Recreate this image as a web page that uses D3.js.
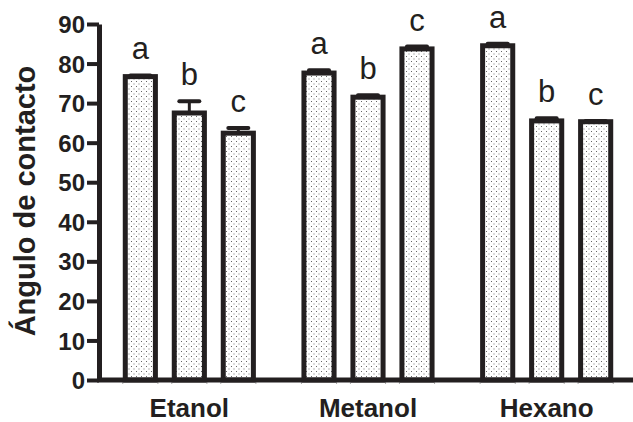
<!DOCTYPE html>
<html>
<head>
<meta charset="utf-8">
<script src="https://cdn.jsdelivr.net/npm/d3@7"></script>
<style>
  body { margin: 0; background: #fff; }
  svg { display: block; font-family: "Liberation Sans", Arial, sans-serif; }
</style>
</head>
<body>
<div id="chart"></div>
<script>
// data
var groups = ["Etanol", "Metanol", "Hexano"];
var etanol = [76.7, 67.5, 62.4];
var metanol = [77.6, 71.5, 83.7];
var hexano = [84.5, 65.5, 65.3];
var etanolErr = [0.3, 3.0, 1.3];
var metanolErr = [0.7, 0.5, 0.6];
var hexanoErr = [0.5, 0.7, 0.2];
var letters = ["a", "b", "c"];
var yTicks = [0, 10, 20, 30, 40, 50, 60, 70, 80, 90];

var values = [etanol, metanol, hexano];
var errors = [etanolErr, metanolErr, hexanoErr];

var data = [];
groups.forEach(function (g, i) {
    values[i].forEach(function (v, j) {
        data.push({ group: g, idx: j, value: v, err: errors[i][j], letter: letters[j] });
    });
});

var W = 633, H = 422;
var ink = "#231f20";

var svg = d3.select("#chart")
    .append("svg")
    .attr("width", W)
    .attr("height", H);

// dotted fill
var pat = svg.append("defs").append("pattern")
    .attr("id", "dots")
    .attr("patternUnits", "userSpaceOnUse")
    .attr("width", 5)
    .attr("height", 5);
pat.append("rect").attr("width", 5).attr("height", 5).attr("fill", "#fff");
pat.append("rect").attr("x", 1).attr("y", 1).attr("width", 1).attr("height", 1).attr("fill", "#666");
pat.append("rect").attr("x", 3.5).attr("y", 3.5).attr("width", 1).attr("height", 1).attr("fill", "#777");

var y = d3.scaleLinear()
    .domain([0, 90])
    .range([380, 24]);

var x = d3.scaleBand()
    .domain(groups)
    .range([100, 636]);

var xi = d3.scaleBand()
    .domain([0, 1, 2])
    .range([0, x.bandwidth()])
    .paddingInner(0.385)
    .paddingOuter(0.516);

// bars
var bars = svg.append("g");
bars.selectAll("rect")
    .data(data)
    .enter()
    .append("rect")
    .attr("x", function (d) { return x(d.group) + xi(d.idx); })
    .attr("y", function (d) { return y(d.value); })
    .attr("width", xi.bandwidth())
    .attr("height", function (d) { return y(0) - y(d.value); })
    .attr("fill", "url(#dots)")
    .attr("stroke", ink)
    .attr("stroke-width", 5);

// faint marks under bar edges
data.forEach(function (d) {
    [-2.5, xi.bandwidth() + 2.5].forEach(function (o) {
        svg.append("line")
            .attr("x1", x(d.group) + xi(d.idx) + o)
            .attr("x2", x(d.group) + xi(d.idx) + o)
            .attr("y1", y(0))
            .attr("y2", y(0) + 4)
            .attr("stroke", "#aaa")
            .attr("stroke-width", 1);
    });
});

// error bars (upper only)
var eb = svg.append("g").attr("stroke", ink);
data.forEach(function (d) {
    var cx = x(d.group) + xi(d.idx) + xi.bandwidth() / 2;
    eb.append("line")
        .attr("x1", cx).attr("x2", cx)
        .attr("y1", y(d.value)).attr("y2", y(d.value + d.err))
        .attr("stroke-width", 3);
    eb.append("line")
        .attr("x1", cx - 10).attr("x2", cx + 10)
        .attr("y1", y(d.value + d.err)).attr("y2", y(d.value + d.err))
        .attr("stroke-width", 4)
        .attr("stroke-linecap", "round");
});

// significance letters
svg.append("g").selectAll("text")
    .data(data)
    .enter()
    .append("text")
    .attr("x", function (d) { return x(d.group) + xi(d.idx) + xi.bandwidth() / 2; })
    .attr("y", function (d) { return y(d.value + d.err) - 16; })
    .attr("text-anchor", "middle")
    .attr("fill", ink)
    .style("font-size", "31px")
    .text(function (d) { return d.letter; });

// y axis
var yAxis = svg.append("g")
    .attr("transform", "translate(99,0)")
    .call(d3.axisLeft(y).tickValues(yTicks).tickSize(12).tickSizeOuter(0).tickPadding(2));
yAxis.select(".domain").attr("stroke", ink).attr("stroke-width", 5);
yAxis.selectAll(".tick line").attr("stroke", ink).attr("stroke-width", 4);
yAxis.selectAll(".tick text")
    .attr("fill", ink)
    .attr("dy", "0.36em")
    .style("font-size", "24px")
    .style("font-weight", "bold")
    .style("font-family", "'Liberation Sans', Arial, sans-serif");

// x axis line
svg.append("line")
    .attr("x1", 97).attr("x2", 633)
    .attr("y1", y(0)).attr("y2", y(0))
    .attr("stroke", ink)
    .attr("stroke-width", 5);

// group labels
svg.append("g").selectAll("text")
    .data(groups)
    .enter()
    .append("text")
    .attr("x", function (d) { return x(d) + x.bandwidth() / 2; })
    .attr("y", 417)
    .attr("text-anchor", "middle")
    .attr("fill", ink)
    .style("font-size", "26px")
    .style("font-weight", "bold")
    .text(function (d) { return d; });

// y label
svg.append("text")
    .attr("transform", "translate(35,201) rotate(-90)")
    .attr("text-anchor", "middle")
    .attr("fill", ink)
    .style("font-size", "29px")
    .style("font-weight", "bold")
    .text("Ángulo de contacto");
</script>
</body>
</html>
